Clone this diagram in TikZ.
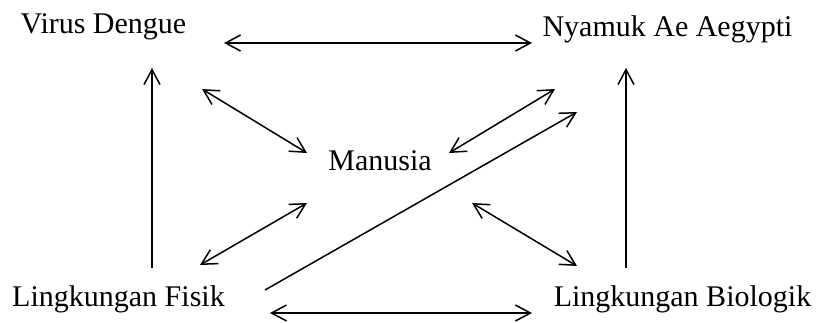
\documentclass[tikz,border=0pt]{standalone}
\usepackage{fontspec}
\setmainfont{Liberation Serif}
\usetikzlibrary{arrows.meta}
\begin{document}
\begin{tikzpicture}[x=1pt,y=-1pt,
  lbl/.style={anchor=base,inner sep=0pt,font=\fontsize{30}{36}\selectfont},
  conn/.style={line width=1.5pt,-{Straight Barb[length=15pt,width=16pt,line width=1.5pt]}},
  dconn/.style={line width=1.5pt,{Straight Barb[length=15pt,width=16pt,line width=1.5pt]}-{Straight Barb[length=15pt,width=16pt,line width=1.5pt]}}]
\path[use as bounding box] (0,0) rectangle (817,322);
\node[lbl] (virus) at (103.5,33) {Virus Dengue};
\node[lbl] (nyamuk) at (667.5,36) {Nyamuk Ae Aegypti};
\node[lbl] (manusia) at (380,170) {Manusia};
\node[lbl] (fisik) at (118.5,306) {Lingkungan Fisik};
\node[lbl] (bio) at (682.5,306) {Lingkungan Biologik};
% endpoints
\coordinate (vn1) at (224,43); \coordinate (vn2) at (532,43);
\coordinate (fb1) at (270,313); \coordinate (fb2) at (532,313);
\coordinate (fv1) at (152,268); \coordinate (fv2) at (152,68);
\coordinate (bn1) at (626,268); \coordinate (bn2) at (626,68);
\coordinate (vm1) at (202,89); \coordinate (vm2) at (307,153);
\coordinate (nm1) at (555,89); \coordinate (nm2) at (449,153);
\coordinate (fm1) at (200,265); \coordinate (fm2) at (307,203);
\coordinate (bm1) at (472,203); \coordinate (bm2) at (577,266);
\coordinate (fn1) at (265,290); \coordinate (fn2) at (577,112);
\draw[dconn] (vn1) -- (vn2);
\draw[dconn] (fb1) -- (fb2);
\draw[conn] (fv1) -- (fv2);
\draw[conn] (bn1) -- (bn2);
\draw[dconn] (vm1) -- (vm2);
\draw[dconn] (nm1) -- (nm2);
\draw[dconn] (fm1) -- (fm2);
\draw[dconn] (bm1) -- (bm2);
\draw[conn] (fn1) -- (fn2);
\end{tikzpicture}
\end{document}
